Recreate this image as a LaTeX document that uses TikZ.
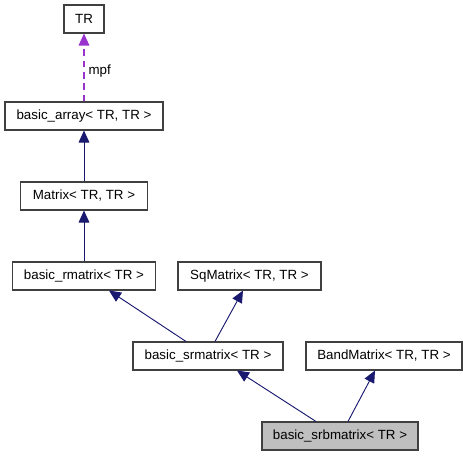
\documentclass[tikz,border=0pt]{standalone}
\usepackage{fontspec}
\setmainfont{Liberation Sans}
\usetikzlibrary{arrows.meta}
\definecolor{edgeblue}{HTML}{191970}
\definecolor{edgepurple}{HTML}{9A32CD}
\definecolor{boxgray}{HTML}{404040}
\tikzstyle{cls}=[draw=boxgray,line width=0.8pt,fill=#1,minimum height=21pt,inner sep=0pt,font=\fontsize{10}{12}\selectfont]
\newcommand{\cls}[5]{\node[cls=#4,minimum width=#5] (#1) at #3 {#2};}
\newcommand{\myedge}[4]{\draw[inherit] ([xshift=#2]#1.north) -- ([xshift=#4]#3.south);}
\tikzset{
	inherit/.style={edgeblue,line width=0.7pt,-{Triangle[length=9pt,width=8pt]}},
}

\begin{document}
\begin{tikzpicture}[x=0.75pt,y=-0.75pt]
    \useasboundingbox (0,0) rectangle (467,456);
    % classes, top to bottom
    \cls{tr}{TR}{(84,19)}{white}{30pt}
    \cls{array}{basic\_array< TR, TR >}{(84,116)}{white}{118.5pt}
    \cls{matrix}{Matrix< TR, TR >}{(84,196)}{white}{95.25pt}
    \cls{rmatrix}{basic\_rmatrix< TR >}{(84,276)}{white}{107.25pt}
    \cls{sq}{SqMatrix< TR, TR >}{(249.5,276)}{white}{107.25pt}
    \cls{srmatrix}{basic\_srmatrix< TR >}{(208,356)}{white}{112.5pt}
    \cls{band}{BandMatrix< TR, TR >}{(384,356)}{white}{117pt}
    \cls{srb}{basic\_srbmatrix< TR >}{(340,436)}{gray!50}{117pt}

    \myedge{srb}{-18pt}{srmatrix}{21.75pt}
    \myedge{srb}{6pt}{band}{-6.75pt}
    \myedge{srmatrix}{-16.5pt}{rmatrix}{18.75pt}
    \myedge{srmatrix}{5.25pt}{sq}{-4.9pt}
    \myedge{rmatrix}{0pt}{matrix}{0pt}
    \myedge{matrix}{0pt}{array}{0pt}

    % member relation
    \draw[edgepurple,line width=0.9pt,dash pattern=on 5pt off 3.5pt,-{Triangle[length=9pt,width=8pt]}] (array.north) -- (tr.south) node[pos=0.45,right,text=black,font=\fontsize{10}{12}\selectfont,inner sep=3pt] (mpf) {mpf};
\end{tikzpicture}
\end{document}
